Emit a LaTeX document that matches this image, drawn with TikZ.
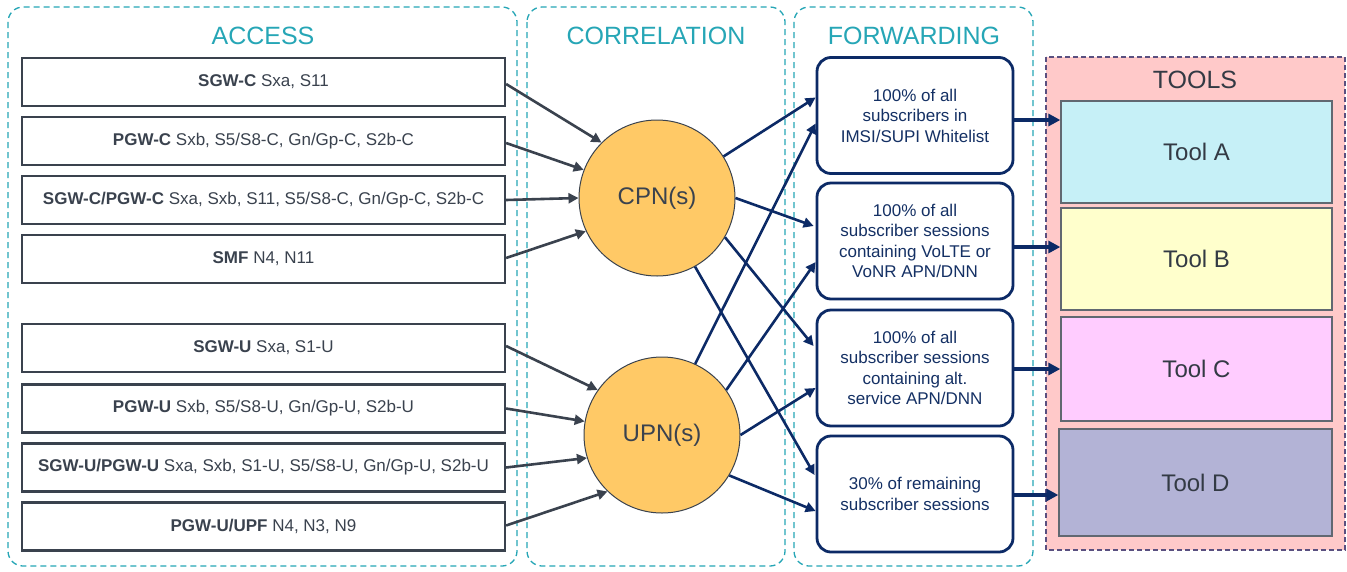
\documentclass[tikz,border=0pt]{standalone}
\usepackage{fontspec}
\setmainfont{Liberation Sans}
\usetikzlibrary{arrows.meta,calc}
\definecolor{tealc}{RGB}{38,166,182}
\definecolor{boxgray}{RGB}{58,66,78}
\definecolor{navy}{RGB}{12,42,102}
\definecolor{navytext}{RGB}{20,48,100}
\definecolor{circfill}{RGB}{255,201,102}
\definecolor{toolsbg}{RGB}{255,201,201}
\definecolor{toolsborder}{RGB}{90,80,128}
\definecolor{toolA}{RGB}{198,240,247}
\definecolor{toolB}{RGB}{255,255,204}
\definecolor{toolC}{RGB}{255,204,255}
\definecolor{toolD}{RGB}{179,179,214}
\definecolor{tooltext}{RGB}{51,58,68}
\begin{document}
\begin{tikzpicture}[x=1pt,y=-1pt,
  container/.style={draw=tealc,line width=1.3pt,dash pattern=on 6pt off 4pt,rounded corners=15pt},
  header/.style={text=tealc,font=\fontsize{25}{28}\selectfont},
  accbox/.style={draw=boxgray,line width=2.2pt,fill=white,minimum width=483pt,minimum height=48pt,inner sep=0pt,text=boxgray,font=\fontsize{17}{20}\selectfont},
  pnode/.style={circle,draw=boxgray,line width=1pt,fill=circfill,minimum size=156pt,inner sep=0pt,text=boxgray,font=\fontsize{24}{28}\selectfont},
  fwdbox/.style={draw=navy,line width=2.8pt,rounded corners=14pt,fill=white,minimum width=196pt,minimum height=116pt,inner sep=0pt,align=center,text=navytext,font=\fontsize{17}{20.5}\selectfont},
  toolbox/.style={draw=boxgray!80,line width=1.3pt,minimum width=271pt,inner sep=0pt,text=tooltext,font=\fontsize{24}{28}\selectfont},
  accarrow/.style={draw=boxgray,line width=2.6pt,-{Triangle[length=10pt,width=10pt]}},
  outarrow/.style={draw=navy,line width=2.6pt,-{Triangle[length=10pt,width=10pt]}},
  toolarrow/.style={draw=navy,line width=3.6pt,-{Triangle[length=12pt,width=12pt]}}
]
\path[use as bounding box,fill=white] (0,0) rectangle (1347,571);

% containers
\draw[container] (8,7) rectangle (517,566);
\draw[container] (527,7) rectangle (785,566);
\draw[container] (794,7) rectangle (1033,566);
\draw[draw=toolsborder,fill=toolsbg,line width=1.2pt,dash pattern=on 5pt off 3pt] (1046,57) rectangle (1345,550);

\node[header] (hacc) at (263,36) {ACCESS};
\node[header] (hcor) at (656,36) {CORRELATION};
\node[header] (hfwd) at (914,36) {FORWARDING};
\node[text=tooltext,font=\fontsize{25}{28}\selectfont] (htools) at (1195,80) {TOOLS};

% access boxes
\node[accbox] (b1) at (263.5,82) {\textbf{SGW-C} Sxa, S11};
\node[accbox] (b2) at (263.5,141) {\textbf{PGW-C} Sxb, S5/S8-C, Gn/Gp-C, S2b-C};
\node[accbox] (b3) at (263.5,200) {\textbf{SGW-C/PGW-C} Sxa, Sxb, S11, S5/S8-C, Gn/Gp-C, S2b-C};
\node[accbox] (b4) at (263.5,259) {\textbf{SMF} N4, N11};
\node[accbox] (b5) at (263.5,348) {\textbf{SGW-U} Sxa, S1-U};
\node[accbox] (b6) at (263.5,408.5) {\textbf{PGW-U} Sxb, S5/S8-U, Gn/Gp-U, S2b-U};
\node[accbox] (b7) at (263.5,467.5) {\textbf{SGW-U/PGW-U} Sxa, Sxb, S1-U, S5/S8-U, Gn/Gp-U, S2b-U};
\node[accbox] (b8) at (263.5,526.5) {\textbf{PGW-U/UPF} N4, N3, N9};

% correlation nodes
\node[pnode] (cpn) at (657,198) {CPN(s)};
\node[pnode] (upn) at (662,435) {UPN(s)};

% forwarding boxes
\node[fwdbox] (f1) at (915,115.5) {100\% of all\\subscribers in\\IMSI/SUPI Whitelist};
\node[fwdbox] (f2) at (915,241) {100\% of all\\subscriber sessions\\containing VoLTE or\\VoNR APN/DNN};
\node[fwdbox] (f3) at (915,368) {100\% of all\\subscriber sessions\\containing alt.\\service APN/DNN};
\node[fwdbox] (f4) at (915,494) {30\% of remaining\\subscriber sessions};

% tools
\node[toolbox,fill=toolA,minimum height=102pt] (ta) at (1196.5,152) {Tool A};
\node[toolbox,fill=toolB,minimum height=102pt] (tb) at (1196.5,259) {Tool B};
\node[toolbox,fill=toolC,minimum height=104pt] (tc) at (1196.5,369) {Tool C};
\node[toolbox,fill=toolD,minimum height=107pt,minimum width=273pt] (td) at (1195.5,482.5) {Tool D};

% access -> correlation
\draw[accarrow] ($(b1.east)+(0,2)$) -- (cpn.135);
\draw[accarrow] ($(b2.east)+(0,2)$) -- (cpn.159);
\draw[accarrow] (b3.east) -- (cpn.180);
\draw[accarrow] ($(b4.east)+(0,-1)$) -- (cpn.205);
\draw[accarrow] ($(b5.east)+(0,-2)$) -- (upn.145);
\draw[accarrow] (b6.east) -- (upn.170);
\draw[accarrow] (b7.east) -- (upn.197);
\draw[accarrow] ($(b8.east)+(0,-1)$) -- (upn.226);

% correlation -> forwarding
\draw[outarrow] (cpn.32) -- ($(f1.west)+(0,-18)$);
\draw[outarrow] (cpn.0) -- ($(f2.west)+(-2,-15)$);
\draw[outarrow] (cpn.-30) -- ($(f3.west)+(-2,-22)$);
\draw[outarrow] (cpn.-61) -- ($(f4.west)+(-1,-19)$);
\draw[outarrow] (upn.65) -- ($(f1.west)+(0,8)$);
\draw[outarrow] (upn.35) -- ($(f2.west)+(0,21)$);
\draw[outarrow] (upn.0) -- ($(f3.west)+(0,20)$);
\draw[outarrow] (upn.-31) -- ($(f4.west)+(0,17)$);

% forwarding -> tools
\coordinate (s1) at ($(f1.east)+(0,4.5)$);
\coordinate (s2) at ($(f2.east)+(0,6)$);
\coordinate (s3) at ($(f3.east)+(0,1)$);
\coordinate (s4) at ($(f4.east)+(0,1)$);
\draw[toolarrow] (s1) -- (s1 -| ta.west);
\draw[toolarrow] (s2) -- (s2 -| tb.west);
\draw[toolarrow] (s3) -- (s3 -| tc.west);
\draw[toolarrow] (s4) -- (s4 -| td.west);
\end{tikzpicture}
\end{document}
